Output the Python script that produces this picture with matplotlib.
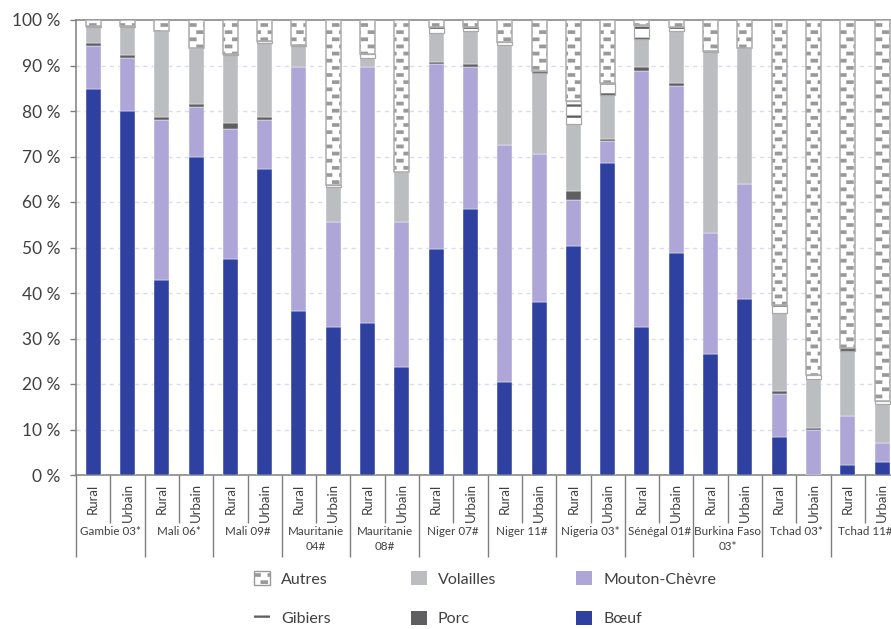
import numpy as np
import matplotlib
matplotlib.use("Agg")
import matplotlib.pyplot as plt
import matplotlib.hatch as mhatch
from matplotlib.path import Path
from matplotlib.patches import Patch

# ---------------- data ----------------
groups = ["Gambie 03*", "Mali 06*", "Mali 09#", "Mauritanie\n04#", "Mauritanie\n08#",
          "Niger 07#", "Niger 11#", "Nigeria 03*", "Sénégal 01#", "Burkina Faso\n03*",
          "Tchad 03*", "Tchad 11#"]
subcats = ["Rural", "Urbain"]
y_ticks = [0, 10, 20, 30, 40, 50, 60, 70, 80, 90, 100]
y_ticklabels = ["0 %", "10 %", "20 %", "30 %", "40 %", "50 %", "60 %", "70 %", "80 %", "90 %", "100 %"]

boeuf = [84.8, 80.1, 42.9, 70.0, 47.5, 67.2, 36.1, 32.6, 33.3, 23.8, 49.6, 58.4,
         20.5, 38.1, 50.3, 68.5, 32.6, 48.9, 26.6, 38.7, 8.3, 0.0, 2.2, 2.9]
mouton = [9.5, 11.5, 35.1, 10.8, 28.5, 10.8, 53.5, 23.1, 56.3, 31.9, 40.7, 31.2,
          52.1, 32.4, 10.1, 4.9, 56.3, 36.6, 26.5, 25.2, 9.5, 9.8, 10.8, 4.1]
porc = [0.7, 0.7, 0.7, 0.7, 1.3, 0.7, 0.0, 0.0, 0.0, 0.0, 0.5, 0.7,
        0.0, 0.0, 2.0, 0.5, 0.7, 0.6, 0.0, 0.0, 0.6, 0.5, 0.0, 0.0]
volailles = [3.4, 6.1, 18.9, 12.3, 14.9, 16.35, 4.7, 7.7, 2.0, 11.0, 6.3, 7.3,
             21.8, 17.8, 14.7, 9.6, 6.2, 11.5, 39.8, 29.9, 17.1, 10.9, 14.3, 8.5]
gibiers = [0.3, 0.3, 0.0, 0.0, 0.4, 0.3, 0.3, 0.3, 0.9, 0.0, 1.3, 0.8,
           0.7, 0.6, 5.2, 2.7, 3.1, 0.9, 0.3, 0.0, 1.9, 0.8, 0.7, 0.8]
autres = [1.3, 1.3, 2.4, 6.2, 7.4, 4.65, 5.4, 36.3, 7.5, 33.3, 1.6, 1.6,
          4.9, 11.1, 17.7, 13.8, 1.1, 1.5, 6.8, 6.2, 62.6, 78.0, 72.0, 83.7]

series_names = ["Bœuf", "Mouton-Chèvre", "Porc", "Volailles", "Gibiers", "Autres"]

# ---------------- custom fill patterns ----------------
class _TilePattern(mhatch.HatchPatternBase):
    """'o' -> staggered grey dashes ; '-' -> horizontal bands."""
    def __init__(self, hatch, density):
        self.rects = []
        if 'o' in hatch:
            rows, cols = 14, 7
            p, h, w = 1.0 / cols, 0.036, 0.074
            for r in range(rows):
                yc = (r + 0.5) / rows
                if r % 2 == 0:
                    centers = [(c + 0.5) * p for c in range(cols)]
                else:
                    centers = [c * p for c in range(cols + 1)]
                for xc in centers:
                    self.rects.append((xc - w / 2, yc - h / 2, w, h))
        if '-' in hatch:
            n = 9
            for r in range(n):
                y0 = (r + 0.5) / n
                self.rects.append((-0.01, y0 - 0.011, 1.02, 0.022))
        self.num_vertices = 5 * len(self.rects)

    def set_vertices_and_codes(self, vertices, codes):
        for i, (x, y, w, h) in enumerate(self.rects):
            vertices[5 * i:5 * i + 5] = [(x, y), (x + w, y), (x + w, y + h), (x, y + h), (x, y)]
            codes[5 * i:5 * i + 5] = [Path.MOVETO, Path.LINETO, Path.LINETO,
                                      Path.LINETO, Path.CLOSEPOLY]

mhatch._hatch_types[:] = [_TilePattern]

plt.rcParams['font.family'] = ['Lato', 'DejaVu Sans']
plt.rcParams['hatch.linewidth'] = 0.1

C_BOEUF = "#2f41a0"
C_MOUTON = "#ada6d7"
C_PORC = "#5f5f61"
C_VOL = "#bcbdc0"
C_HATCH = "#999999"
C_GIB = "#606060"
C_AXIS = "#7f7f7f"
C_TEXT = "#404040"

fig = plt.figure(figsize=(8.91, 6.29), dpi=100)
ax = fig.add_axes([76 / 891, 154 / 629, (891 - 76) / 891, 455 / 629])

n = len(boeuf)
x = np.arange(n)
w = 0.44

b = np.zeros(n)
for vals, col in [(boeuf, C_BOEUF), (mouton, C_MOUTON), (porc, C_PORC), (volailles, C_VOL)]:
    v = np.array(vals)
    ax.bar(x, v, w, bottom=b, color=col, edgecolor="white",
           linewidth=np.where(v > 0, 0.3, 0), zorder=3)
    b += v

g = np.array(gibiers)
ax.bar(x, g, w, bottom=b, color="white", edgecolor=C_GIB, hatch='-', linewidth=0, zorder=3)
ax.bar(x, g, w, bottom=b, fill=False, edgecolor="#a9a9a9",
       linewidth=np.where(g > 0, 0.9, 0), zorder=4)
b += g

a = np.array(autres)
ax.bar(x, a, w, bottom=b, color="white", edgecolor=C_HATCH, hatch='o', linewidth=0, zorder=3)
ax.bar(x, a, w, bottom=b, fill=False, edgecolor="#acacac", linewidth=1.1, zorder=4)

# axes styling
ax.set_ylim(0, 100)
ax.set_xlim(-0.5, -0.5 + (891 - 76) / 34.3)
ax.set_yticks(y_ticks)
ax.set_yticklabels(y_ticklabels, fontsize=12.5, color=C_TEXT)
ax.tick_params(axis='y', direction='out', length=4.5, width=1, color=C_AXIS, pad=7)
for yv in y_ticks[1:-1]:
    ax.axhline(yv, color="#dadaf0", linewidth=1.0, linestyle=(0, (3, 3)), zorder=1)

ax.set_xticks(x)
ax.set_xticklabels([subcats[i % 2] for i in range(n)], rotation=90, fontsize=9.5,
                   color=C_TEXT, va='top', ha='center')
ax.tick_params(axis='x', length=0, pad=6)

for s in ['left', 'bottom', 'top']:
    ax.spines[s].set_color(C_AXIS)
    ax.spines[s].set_linewidth(1.1)
ax.spines['right'].set_visible(False)

trans = ax.get_xaxis_transform()
ax.vlines(np.arange(-0.5, n, 2), 0, -0.18, transform=trans, colors=C_AXIS,
          linewidth=1.0, clip_on=False)
ax.vlines(np.arange(0.5, n, 2), 0, -0.105, transform=trans, colors=C_AXIS,
          linewidth=1.0, clip_on=False)
for gi, gname in enumerate(groups):
    ax.text(2 * gi + 0.5, -0.113, gname, transform=trans, ha='center', va='top',
            fontsize=8.4, color=C_TEXT, linespacing=1.4)

# legend
handles = [
    Patch(facecolor="white", edgecolor=C_HATCH, hatch='o', linewidth=1.0),
    Patch(facecolor="white", edgecolor=C_GIB, hatch='-', linewidth=0),
    Patch(facecolor=C_VOL, edgecolor="none"),
    Patch(facecolor=C_PORC, edgecolor="none"),
    Patch(facecolor=C_MOUTON, edgecolor="none"),
    Patch(facecolor=C_BOEUF, edgecolor="none"),
]
labels = ["Autres", "Gibiers", "Volailles", "Porc", "Mouton-Chèvre", "Bœuf"]
leg = fig.legend(handles, labels, ncol=3, loc='upper left',
                 bbox_to_anchor=(254 / 891, 1 - 571 / 629), frameon=False,
                 borderpad=0, borderaxespad=0, fontsize=11.5,
                 handlelength=1.0, handleheight=1.0, handletextpad=0.7,
                 columnspacing=5.0, labelspacing=1.5)
for t in leg.get_texts():
    t.set_color(C_TEXT)

fig.savefig("out.png", dpi=100)
